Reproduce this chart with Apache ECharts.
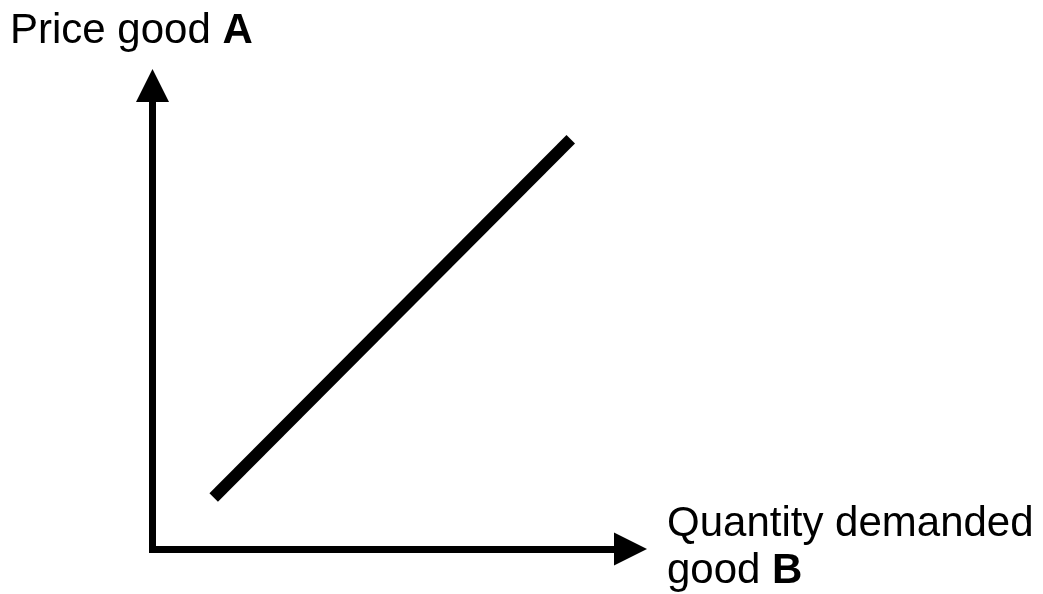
<!DOCTYPE html>
<html>
<head>
<meta charset="utf-8">
<script src="https://cdn.jsdelivr.net/npm/echarts@6/dist/echarts.min.js"></script>
<style>
  html, body { margin: 0; padding: 0; background: #fff; }
  #main { width: 1043px; height: 594px; }
</style>
</head>
<body>
<div id="main"></div>
<script>
  // data (axes run 0..100, no ticks shown)
  var lineX = [12.8, 87.5];
  var lineY = [11.1, 88.4];
  var yName = "Price good {b|A}";
  var xName = "Quantity demanded\ngood {b|B}";

  var points = lineX.map(function (x, i) { return [x, lineY[i]]; });

  var myChart = echarts.init(document.getElementById("main"));

  var axisCommon = {
    type: "value",
    min: 0,
    max: 100,
    axisLine: {
      show: true,
      symbol: ["none", "triangle"],
      symbolSize: [33, 33],
      lineStyle: { color: "#000", width: 7, cap: "square" }
    },
    axisTick: { show: false },
    axisLabel: { show: false },
    splitLine: { show: false }
  };

  myChart.setOption({
    backgroundColor: "#fff",
    animation: false,
    title: [
      {
        text: yName,
        left: 10,
        top: 8,
        padding: 0,
        textStyle: {
          fontFamily: "Liberation Sans",
          fontSize: 42,
          fontWeight: "normal",
          color: "#000",
          lineHeight: 46,
          rich: {
            b: { fontFamily: "Liberation Sans", fontSize: 42, fontWeight: "bold", color: "#000", lineHeight: 46 }
          }
        }
      },
      {
        text: xName,
        left: 667,
        top: 501,
        padding: 0,
        textStyle: {
          fontFamily: "Liberation Sans",
          fontSize: 42,
          fontWeight: "normal",
          color: "#000",
          lineHeight: 47,
          rich: {
            b: { fontFamily: "Liberation Sans", fontSize: 42, fontWeight: "bold", color: "#000", lineHeight: 47 }
          }
        }
      }
    ],
    grid: { left: 152.5, right: 412.5, top: 85.5, bottom: 45 },
    xAxis: axisCommon,
    yAxis: axisCommon,
    series: [
      {
        type: "line",
        data: points,
        symbol: "none",
        lineStyle: { color: "#000", width: 12, cap: "butt" }
      }
    ]
  });
</script>
</body>
</html>
